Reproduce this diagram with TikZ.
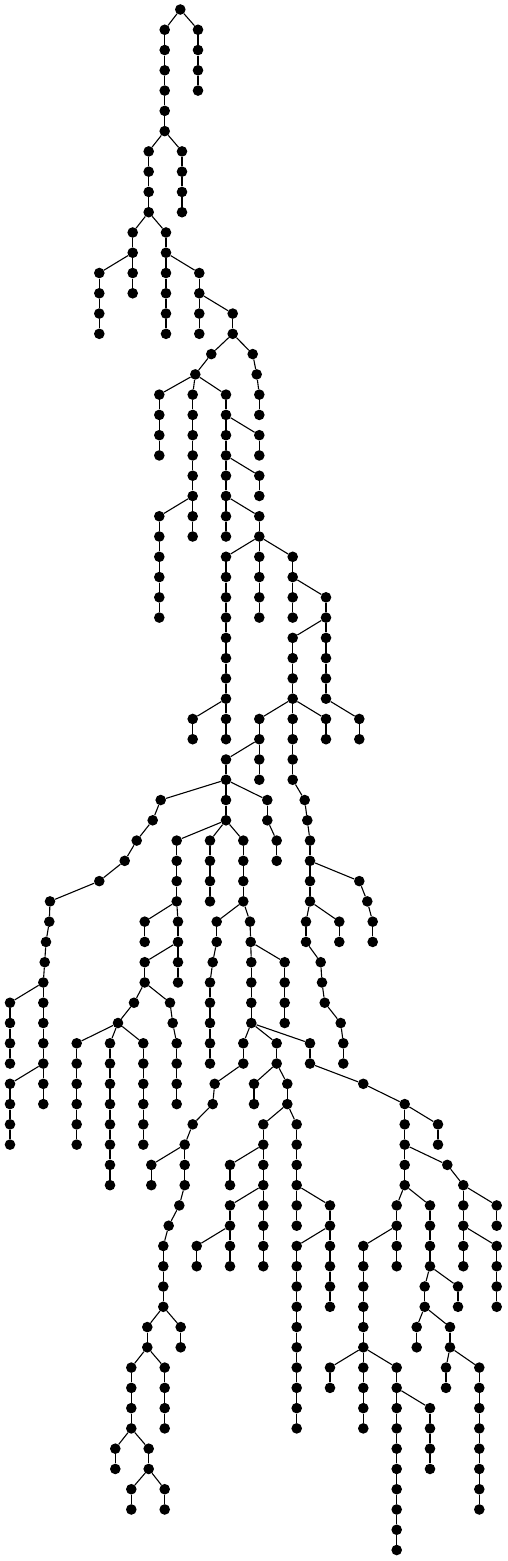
\documentclass[tikz,border=0pt]{standalone}
\usepackage{tikz}
\tikzset{
	dot/.style={circle,fill=black,inner sep=0pt,minimum size=10.6pt},
	edge/.style={draw=black,line width=1.1pt}}
\def\yo{9.5}
\def\dy{20.27}
% one vertical run of the tree: name, parent, first level, x per level
\newcommand{\twig}[4]{%
	\foreach \xx [count=\lv from #3] in {#4}{
		\pgfmathtruncatemacro{\up}{\lv-1}
		\node[dot] (#1-\lv) at (\xx,{-(\yo+\dy*\lv)}) {};
		\ifnum\lv=#3\relax
			\draw[edge] (#2) -- (#1-\lv);
		\else
			\draw[edge] (#1-\up) -- (#1-\lv);
		\fi
	}}
\begin{document}
\begin{tikzpicture}[x=1pt,y=1pt]
	\useasboundingbox (0,0) rectangle (507,-1561);
	\node[dot] (r-0) at (180.3,-\yo) {};
	\twig{a}{r-0}{1}{164.7,164.7,164.7,164.7,164.7,164.7}
	\twig{b}{r-0}{1}{198,198,198,198}
	\twig{c}{a-6}{7}{148.7,148.7,148.7,148.7}
	\twig{d}{a-6}{7}{182,182,182,182}
	\twig{e}{c-10}{11}{132.7,132.7,132.7,132.7}
	\twig{f}{c-10}{11}{166,166,166,166,166,166}
	\twig{g}{e-12}{13}{99.3,99.3,99.3,99.3}
	\twig{h}{f-12}{13}{199.3,199.3,199.3,199.3}
	\twig{i}{h-14}{15}{232.7,232.7,211.3,195.3,192.7,192.7,192.7,192.7,192.7,192.7,192.7,192.7}
	\twig{j}{i-16}{17}{252.7,256.7,259.3,259.3}
	\twig{k}{i-18}{19}{159.3,159.3,159.3,159.3}
	\twig{l}{i-18}{19}{226,226,226,226,226,226,226,226}
	\twig{m}{l-20}{21}{259.3,259.3}
	\twig{n}{l-22}{23}{259.3,259.3}
	\twig{o}{l-24}{25}{259.3,259.3,259.3,259.3,259.3,259.3}
	\twig{p}{i-24}{25}{159.3,159.3,159.3,159.3,159.3,159.3}
	\twig{q}{o-26}{27}{226,226,226,226,226,226,226,226,226,226}
	\twig{s}{q-34}{35}{192.7,192.7}
	\twig{t}{o-26}{27}{292.7,292.7,292.7,292.7}
	\twig{u}{t-28}{29}{326,326,326,326,326,326}
	\twig{v}{u-34}{35}{359.3,359.3}
	\twig{w}{u-30}{31}{292.7,292.7,292.7,292.7,292.7,292.7,292.7,292.7,304.7,307.3,310,310,310,310}
	\twig{x}{w-34}{35}{326,326}
	\twig{y}{w-34}{35}{259.3,259.3,259.3,259.3}
	\twig{z}{y-36}{37}{226,226,226,226,210,210,210,210}
	\twig{aa}{z-38}{39}{160.7,152.7,136.7,124.7,99.3,50,49.3,46,44.7,43.3,43.3,43.3,43.3,43.3,43.3,43.3}
	\twig{ab}{aa-48}{49}{10,10,10,10}
	\twig{ac}{aa-52}{53}{10,10,10,10}
	\twig{ad}{z-38}{39}{267.3,267.3,276.7,276.7}
	\twig{ae}{z-40}{41}{176.7,176.7,176.7,176.7,178,178,178,178}
	\twig{af}{ae-44}{45}{144.7,144.7}
	\twig{ag}{ae-46}{47}{144.7,144.7,170,172.7,176.7,176.7,176.7,176.7}
	\twig{ah}{ag-48}{49}{134,118,110,110,110,110,110,110,110,110}
	\twig{ai}{ah-50}{51}{76.7,76.7,76.7,76.7,76.7,76.7}
	\twig{aj}{ah-50}{51}{143.3,143.3,143.3,143.3,143.3,143.3}
	\twig{ak}{z-40}{41}{243.3,243.3,243.3,243.3,250,250.7,251.3,251.3,251.3,251.3,243.3,243.3,214.7,212.7,192.7,184.7,184.7,184.7,179.3,168.7,163.3,163.3,163.3,163.3,147.3,147.3,131.3,131.3,131.3,131.3,148.7,148.7,131.3,131.3}
	\twig{al}{ak-44}{45}{216.7,216.7,212.7,210,210,210,210,210}
	\twig{am}{ak-46}{47}{284.7,284.7,284.7,284.7}
	\twig{an}{ak-50}{51}{276.7,276.7,287.3,287.3,296.7,296.7,296.7,296.7,330,330,330,330,330,330}
	\twig{ao}{an-52}{53}{254,254}
	\twig{ap}{an-54}{55}{263.3,263.3,263.3,263.3,263.3,263.3,263.3,263.3}
	\twig{aq}{ap-56}{57}{230,230}
	\twig{ar}{ap-58}{59}{230,230,230,230}
	\twig{as}{ar-60}{61}{196.7,196.7}
	\twig{at}{an-58}{59}{296.7,296.7}
	\twig{au}{an-60}{61}{296.7,296.7,296.7,296.7,296.7,296.7,296.7,296.7,296.7,296.7}
	\twig{av}{ak-50}{51}{310,310,363.3,404.7,404.7,404.7,404.7,404.7,430,430,430,430,458,458}
	\twig{aw}{av-54}{55}{438,438}
	\twig{ax}{av-56}{57}{447.3,463.3,463.3,463.3,463.3,463.3}
	\twig{ay}{ax-58}{59}{496.7,496.7}
	\twig{az}{ax-60}{61}{496.7,496.7,496.7,496.7}
	\twig{ba}{av-58}{59}{396.7,396.7,396.7,396.7}
	\twig{bb}{ba-60}{61}{363.3,363.3,363.3,363.3,363.3,363.3,363.3,363.3,363.3,363.3}
	\twig{bc}{bb-66}{67}{330,330}
	\twig{bd}{bb-66}{67}{396.7,396.7,396.7,396.7,396.7,396.7,396.7,396.7,396.7,396.7}
	\twig{be}{bd-68}{69}{430,430,430,430}
	\twig{bf}{av-62}{63}{424.7,424.7,450,450,479.3,479.3,479.3,479.3,479.3,479.3,479.3,479.3}
	\twig{bg}{bf-64}{65}{416.7,416.7}
	\twig{bh}{bf-66}{67}{446,446}
	\twig{bi}{ak-56}{57}{151.3,151.3}
	\twig{bj}{ak-64}{65}{180.7,180.7}
	\twig{bk}{ak-66}{67}{164.7,164.7,164.7,164.7}
	\twig{bl}{ak-70}{71}{115.3,115.3}
	\twig{bm}{ak-72}{73}{164.7,164.7}
	\twig{bp}{w-42}{43}{359.3,367.3,372.7,372.7}
	\twig{bq}{w-44}{45}{306,306,320.7,322,324.7,340.7,343.3,343.3}
	\twig{br}{w-44}{45}{339.3,339.3}
\end{tikzpicture}
\end{document}
